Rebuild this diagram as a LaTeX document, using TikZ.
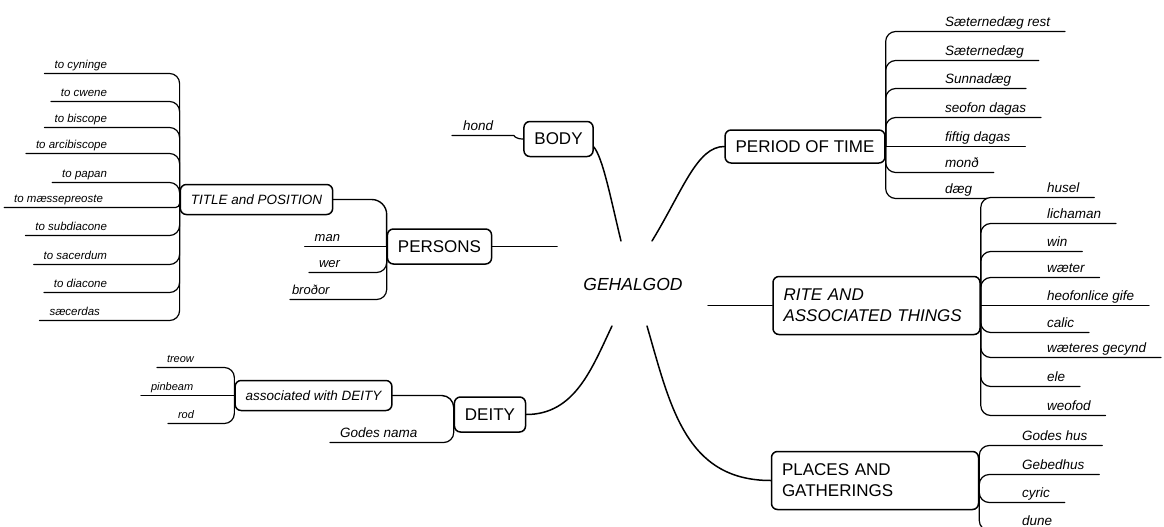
\documentclass[tikz,border=0pt]{standalone}
\usepackage{fontspec}
\setmainfont{Liberation Sans}
\usetikzlibrary{calc}

\begin{document}
\begin{tikzpicture}[%
    x=1pt, y=-1pt,           % pixel-like units, y grows downwards
    line join=round,
    line cap=round
    ]
% -------------------------------------------------
% Box and line styles
\tikzset{
  base/.style={draw, line width=1.5pt, rounded corners=6pt, inner xsep=10.5pt, inner ysep=0pt},
  topic/.style={base, font={\fontsize{17}{21}\selectfont}, minimum height=35pt},
  topic2/.style={base, font={\fontsize{17}{21}\selectfont}, text width=186pt, align=left, minimum height=58pt},
  sub/.style={base, font={\fontsize{13.5}{16}\selectfont\itshape}, minimum height=30pt},
  leaf/.style={inner xsep=#1, inner ysep=0pt, outer sep=0pt, text depth=5pt,
    font={\fontsize{13.5}{16}\selectfont\itshape}},
  leaf/.default=15pt,
  small/.style={font={\fontsize{11.5}{14}\selectfont\itshape}},
  twig/.style={draw, line width=1.2pt, rounded corners=10pt},
  spoke/.style={draw, line width=1.5pt}
}
\useasboundingbox (0,0) rectangle (1164,527);
% -------------------------------------------------
% The word in the middle and the main topics
\node [font={\fontsize{17.5}{20}\selectfont\itshape}] (gh) at (633,284) {GEHALGOD};
\node [topic] (body) at (558.5,139) {BODY};
\node [topic, minimum height=33pt] (time) at (805,146.5) {PERIOD OF TIME};
\node [topic] (persons) at (439.5,246.5) {PERSONS};
\node [topic2] (rite) at (876.5,305.5) {\itshape RITE AND\\ASSOCIATED THINGS};
\node [topic] (deity) at (490,414.5) {DEITY};
\node [topic2] (places) at (875,480.5) {PLACES AND\\GATHERINGS};
\node [sub] (title) at (256.5,199.5) {TITLE and POSITION};
\node [sub] (assoc) at (313.5,395.5) {associated with DEITY};

% free ends of the spokes round the middle word
\coordinate (hB) at (621,241);
\coordinate (hT) at (652,241);
\coordinate (hL) at (557,246.5);
\coordinate (hR) at (708,305.5);
\coordinate (hD) at (612,326);
\coordinate (hP) at (647,326);

% -------------------------------------------------
% The spokes
\draw [spoke] (hB) .. controls (611,200) and (603,158) .. ([yshift=-8pt]body.east);
\draw [spoke] (hT) .. controls (683,190) and (697,146.5) .. (time.west);
\draw [spoke] (hL) -- (persons.east);
\draw [spoke] (hR) -- (rite.west);
\draw [spoke] (hD) .. controls (592,368) and (575,414.5) .. (deity.east);
\draw [spoke] (hP) .. controls (670,405) and (685,480.5) .. (places.west);

% -------------------------------------------------
% BODY
\node [leaf=11pt, anchor=south west] (bd1) at (452,135.5) {hond};
\draw [twig] (bd1.south west) -- (bd1.south east)
  .. controls +(10,0) and +(-8,0) .. (body.west);

% -------------------------------------------------
% PERIOD OF TIME
\node [leaf, anchor=south west] (pt1) at (930,31.5) {Sæternedæg rest};
\node [leaf, anchor=south west] (pt2) at (930,60.5) {Sæternedæg};
\node [leaf, anchor=south west] (pt3) at (930,88.5) {Sunnadæg};
\node [leaf, anchor=south west] (pt4) at (930,117.5) {seofon dagas};
\node [leaf, anchor=south west] (pt5) at (930,146.5) {fiftig dagas};
\node [leaf, anchor=south west] (pt6) at (930,172.5) {monð};
\node [leaf, anchor=south west] (pt7) at (930,198.5) {dæg};
\draw [twig] (time.east) |- (pt1.south east);
\draw [twig] (time.east) |- (pt2.south east);
\draw [twig] (time.east) |- (pt3.south east);
\draw [twig] (time.east) |- (pt4.south east);
\draw [twig] (time.east) -- (pt5.south east);
\draw [twig] (time.east) |- (pt6.south east);
\draw [twig] (time.east) |- (pt7.south east);

% -------------------------------------------------
% RITE AND ASSOCIATED THINGS
\node [leaf, anchor=south west] (r1) at (1032,197.5) {husel};
\node [leaf, anchor=south west] (r2) at (1032,223.5) {lichaman};
\node [leaf, anchor=south west] (r3) at (1032,251.5) {win};
\node [leaf, anchor=south west] (r4) at (1032,277.5) {wæter};
\node [leaf, anchor=south west] (r5) at (1032,305.5) {heofonlice gife};
\node [leaf, anchor=south west] (r6) at (1032,332.5) {calic};
\node [leaf, anchor=south west] (r7) at (1032,357.5) {wæteres gecynd};
\node [leaf, anchor=south west] (r8) at (1032,386.5) {ele};
\node [leaf, anchor=south west] (r9) at (1032,415.5) {weofod};
\draw [twig] (rite.east) |- (r1.south east);
\draw [twig] (rite.east) |- (r2.south east);
\draw [twig] (rite.east) |- (r3.south east);
\draw [twig] (rite.east) |- (r4.south east);
\draw [twig] (rite.east) -- (r5.south east);
\draw [twig] (rite.east) |- (r6.south east);
\draw [twig] (rite.east) |- (r7.south east);
\draw [twig] (rite.east) |- (r8.south east);
\draw [twig] (rite.east) |- (r9.south east);

% -------------------------------------------------
% PLACES AND GATHERINGS
\node [leaf, anchor=south west] (g1) at (1007,445.5) {Godes hus};
\node [leaf, anchor=south west] (g2) at (1007,474.5) {Gebedhus};
\node [leaf, anchor=south west] (g3) at (1007,502.5) {cyric};
\node [leaf, anchor=south west] (g4) at (1007,530.5) {dune};
\draw [twig] (places.east) |- (g1.south east);
\draw [twig] (places.east) |- (g2.south east);
\draw [twig] (places.east) |- (g3.south east);
\draw [twig] (places.east) |- (g4.south east);

% -------------------------------------------------
% PERSONS, with TITLE and POSITION
\node [leaf=10pt, anchor=south east, font={\fontsize{13}{16}\selectfont\itshape}] (ps1) at (350,246.5) {man};
\node [leaf=10pt, anchor=south east, font={\fontsize{13}{16}\selectfont\itshape}] (ps2) at (350,272.5) {wer};
\node [leaf=2pt, anchor=south west, font={\fontsize{13}{16}\selectfont\itshape}] (ps3) at (290,299.5) {broðor};
\draw [twig] (ps1.south west) -- (persons.west);
\draw [twig] (persons.west) |- (ps2.south west);
\draw [twig] (persons.west) |- (ps3.south west);
\draw [twig, line width=1.4pt, rounded corners=15pt] (title.east) -| (persons.west);

\node [leaf=10pt, anchor=south east, small] (tp1) at (117,73.5) {to cyninge};
\node [leaf=10pt, anchor=south east, small] (tp2) at (117,101.5) {to cwene};
\node [leaf=10pt, anchor=south east, small] (tp3) at (117,127.5) {to biscope};
\node [leaf=10pt, anchor=south east, small] (tp4) at (117,153.5) {to arcibiscope};
\node [leaf=10pt, anchor=south east, small] (tp5) at (117,182.5) {to papan};
\node [leaf=10pt, anchor=south east, small] (tp6) at (113,207.5) {to mæssepreoste};
\node [leaf=10pt, anchor=south east, small] (tp7) at (117,235.5) {to subdiacone};
\node [leaf=10pt, anchor=south east, small] (tp8) at (117,264.5) {to sacerdum};
\node [leaf=10pt, anchor=south east, small] (tp9) at (117,292.5) {to diacone};
\node [leaf=10pt, anchor=south east, small] (tp10) at (110,320.5) {sæcerdas};
\draw [twig] (title.west) |- (tp1.south west);
\draw [twig] (title.west) |- (tp2.south west);
\draw [twig] (title.west) |- (tp3.south west);
\draw [twig] (title.west) |- (tp4.south west);
\draw [twig] (title.west) |- (tp5.south west);
\draw [twig, rounded corners=4pt] (title.west) |- (tp6.south west);
\draw [twig] (title.west) |- (tp7.south west);
\draw [twig] (title.west) |- (tp8.south west);
\draw [twig] (title.west) |- (tp9.south west);
\draw [twig] (title.west) |- (tp10.south west);

% -------------------------------------------------
% DEITY, with associated with DEITY
\node [leaf=10pt, anchor=south west] (dt1) at (330,442.5) {Godes nama};
\draw [twig] (deity.west) |- (dt1.south west);
\draw [twig, line width=1.4pt, rounded corners=12pt] (assoc.east) -| (deity.west);

\node [leaf=10pt, anchor=south west, font={\fontsize{11}{14}\selectfont\itshape}] (as1) at (157,367.5) {treow};
\node [leaf=10pt, anchor=south west, font={\fontsize{11}{14}\selectfont\itshape}] (as2) at (141,395.5) {pinbeam};
\node [leaf=10pt, anchor=south west, font={\fontsize{11}{14}\selectfont\itshape}] (as3) at (168,423.5) {rod};
\draw [twig] (assoc.west) |- (as1.south west);
\draw [twig] (as2.south west) -- (assoc.west);
\draw [twig] (assoc.west) |- (as3.south west);
\end{tikzpicture}
\end{document}
